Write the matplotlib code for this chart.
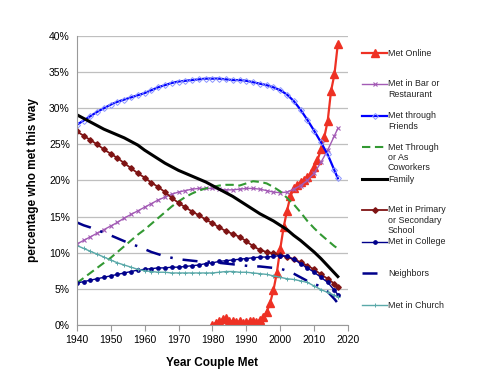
import numpy as np
import matplotlib.pyplot as plt
from matplotlib.ticker import FuncFormatter

plt.rcParams['font.family'] = ['Liberation Sans', 'DejaVu Sans']

# common year grid for the long series
years = [1940, 1942, 1944, 1946, 1948, 1950, 1952, 1954, 1956, 1958,
         1960, 1962, 1964, 1966, 1968, 1970, 1972, 1974, 1976, 1978,
         1980, 1982, 1984, 1986, 1988, 1990, 1992, 1994, 1996, 1998,
         2000, 2002, 2004, 2006, 2008, 2010, 2012, 2014, 2016, 2017]

online_years = list(range(1980, 2018))
online = [0.0, 0.3, 0.5, 0.8, 0.9, 0.6, 0.5, 0.4, 0.5, 0.3,
          0.4, 0.5, 0.6, 0.4, 0.7, 1.1, 1.8, 3.0, 4.8, 7.2,
          10.5, 13.5, 15.8, 17.8, 18.9, 19.4, 19.8, 20.1, 20.5, 21.0,
          21.8, 22.8, 24.3, 26.0, 28.2, 32.4, 34.7, 38.9]

bar = [11.2, 11.7, 12.2, 12.7, 13.2, 13.7, 14.2, 14.8, 15.3, 15.8,
       16.3, 16.8, 17.3, 17.7, 18.1, 18.4, 18.6, 18.8, 18.9, 18.9,
       18.9, 18.8, 18.7, 18.7, 18.8, 18.9, 18.9, 18.8, 18.6, 18.4,
       18.3, 18.4, 18.8, 19.3, 20.0, 21.0, 22.5, 24.2, 26.2, 27.2]

friends = [27.7, 28.3, 28.9, 29.5, 30.0, 30.5, 30.9, 31.2, 31.5, 31.8,
           32.1, 32.5, 32.9, 33.2, 33.5, 33.7, 33.8, 33.9, 34.0, 34.1,
           34.1, 34.1, 34.0, 33.9, 33.9, 33.8, 33.6, 33.4, 33.2, 32.9,
           32.5, 31.9, 31.0, 29.8, 28.4, 26.9, 25.3, 23.6, 21.4, 20.3]

coworkers = [5.8, 6.5, 7.2, 7.9, 8.6, 9.3, 10.1, 10.9, 11.7, 12.5,
             13.2, 14.0, 14.8, 15.6, 16.4, 17.1, 17.7, 18.2, 18.6, 18.9,
             19.1, 19.3, 19.4, 19.4, 19.3, 19.6, 19.9, 19.8, 19.6, 19.1,
             18.5, 17.6, 16.7, 15.6, 14.4, 13.4, 12.5, 11.7, 10.9, 10.6]

family = [29.1, 28.6, 28.1, 27.6, 27.1, 26.7, 26.3, 25.9, 25.4, 24.9,
          24.2, 23.6, 23.0, 22.4, 21.9, 21.4, 21.0, 20.6, 20.2, 19.8,
          19.3, 18.8, 18.3, 17.8, 17.2, 16.6, 16.0, 15.4, 14.9, 14.4,
          13.8, 13.2, 12.4, 11.7, 10.9, 10.1, 9.2, 8.2, 7.2, 6.7]

school = [26.8, 26.2, 25.6, 25.0, 24.3, 23.7, 23.1, 22.4, 21.7, 21.0,
          20.4, 19.7, 19.1, 18.4, 17.6, 16.9, 16.3, 15.7, 15.2, 14.6,
          14.1, 13.5, 13.0, 12.6, 12.2, 11.6, 10.9, 10.4, 10.1, 9.9,
          9.7, 9.4, 9.1, 8.7, 8.2, 7.7, 7.0, 6.4, 5.7, 5.3]

college = [5.8, 6.0, 6.2, 6.4, 6.6, 6.8, 7.0, 7.2, 7.4, 7.6,
           7.7, 7.8, 7.9, 7.9, 8.0, 8.0, 8.1, 8.2, 8.3, 8.5,
           8.6, 8.8, 8.9, 9.0, 9.1, 9.2, 9.3, 9.4, 9.4, 9.5,
           9.6, 9.5, 9.1, 8.5, 7.9, 7.3, 6.6, 5.9, 4.8, 4.2]

neighbors = [14.2, 13.8, 13.5, 13.1, 12.8, 12.4, 12.0, 11.6, 11.2, 10.9,
             10.5, 10.1, 9.8, 9.5, 9.3, 9.1, 9.0, 8.9, 8.8, 8.8,
             8.7, 8.6, 8.5, 8.4, 8.3, 8.2, 8.1, 8.1, 8.0, 7.9,
             7.8, 7.5, 7.1, 6.6, 6.1, 5.7, 5.3, 4.6, 3.6, 3.0]

church = [11.0, 10.6, 10.2, 9.8, 9.4, 9.0, 8.6, 8.3, 8.0, 7.7,
          7.5, 7.4, 7.3, 7.3, 7.2, 7.2, 7.2, 7.2, 7.2, 7.2,
          7.2, 7.3, 7.4, 7.4, 7.3, 7.3, 7.2, 7.1, 7.0, 6.8,
          6.6, 6.4, 6.3, 6.1, 5.9, 5.4, 4.9, 4.5, 4.1, 3.9]

labels = ["Met Online", "Met in Bar or\nRestaurant", "Met through\nFriends",
          "Met Through\nor As\nCoworkers", "Family",
          "Met in Primary\nor Secondary\nSchool", "Met in College",
          "Neighbors", "Met in Church"]

styles = [
    dict(color='#EE3124', lw=1.6, marker='^', ms=5.5),
    dict(color='#A35BB5', lw=1.0, marker='x', ms=2.5, mew=0.8),
    dict(color='#0000FF', lw=1.6, marker='D', ms=3, mfc='none', mec='#8C96FF', mew=0.7),
    dict(color='#339933', lw=1.5, ls=(0, (4, 2.2))),
    dict(color='black', lw=2.2),
    dict(color='#7F1414', lw=1.3, marker='D', ms=2.8),
    dict(color='#00008B', lw=1.0, marker='o', ms=2.4),
    dict(color='#00008B', lw=1.8, ls=(0, (6, 4, 1, 4))),
    dict(color='#5AA9A9', lw=1.0, marker='+', ms=3.5, mew=0.7),
]

xs = [online_years] + [years] * 8
ys = [online, bar, friends, coworkers, family, school, college, neighbors, church]

fig = plt.figure(figsize=(4.8, 3.77), dpi=100)
ax = fig.add_axes([0.160, 0.138, 0.565, 0.7665])

for x, y, st in zip(xs, ys, styles):
    ax.plot(x, y, **st)

ax.set_xlim(1940, 2020)
ax.set_ylim(0, 40)
ax.set_xticks(range(1940, 2021, 10))
ax.set_yticks(range(0, 41, 5))
ax.yaxis.set_major_formatter(FuncFormatter(lambda v, p: f"{v:.0f}%"))
ax.grid(axis='y', color='#BFBFBF', lw=0.9)
ax.set_axisbelow(True)
for s in ['top', 'right']:
    ax.spines[s].set_visible(False)
for s in ['left', 'bottom']:
    ax.spines[s].set_color('#999999')
ax.tick_params(axis='x', colors='#999999', labelcolor='black', labelsize=7.5, length=4, direction='out')
ax.tick_params(axis='y', colors='#999999', labelcolor='black', labelsize=7.5, length=0, pad=5)
ax.set_xlabel("Year Couple Met", fontsize=8.5, fontweight='bold', labelpad=8)
ax.set_ylabel("percentage who met this way", fontsize=8.5, fontweight='bold', labelpad=7)

# legend drawn by hand, in pixel coords of an overlay axes
lg = fig.add_axes([0, 0, 1, 1], facecolor='none')
lg.set_xlim(0, 480)
lg.set_ylim(377, 0)
lg.axis('off')
leg_y = [53, 84, 116, 147, 179, 210, 242, 273, 305]
for yy, lab, st in zip(leg_y, labels, styles):
    lg.plot([362, 374.5, 387], [yy, yy, yy], markevery=[1], **st)
    lg.text(388, yy - 4.5, lab, fontsize=6.4, va='top', ha='left',
            linespacing=1.15, color='#222222')

fig.savefig("out.png", dpi=100)
